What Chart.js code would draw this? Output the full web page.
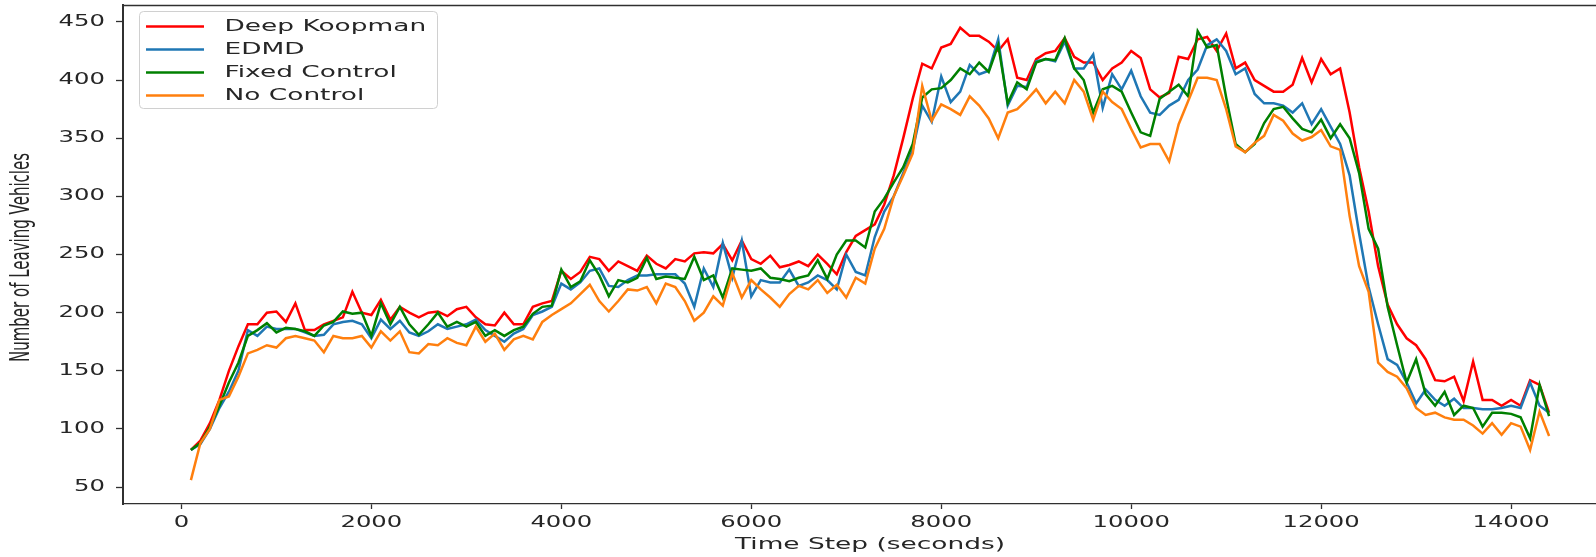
<!DOCTYPE html>
<html>
<head>
<meta charset="utf-8">
<script src="https://cdn.jsdelivr.net/npm/chart.js@4.4.1/dist/chart.umd.min.js"></script>
<style>
  html, body { margin: 0; padding: 0; background: #ffffff; overflow: hidden; width: 1596px; height: 557px; }
  #wrap { position: absolute; left: 0; top: 0; width: 1625px; height: 557px; }
</style>
</head>
<body>
<div id="wrap"><canvas id="chart" width="1625" height="557"></canvas></div>
<script>
// Simulation time (seconds) at which leaving vehicles were counted
const timeSteps = [
  100, 200, 300, 400, 500, 600, 700, 800, 900, 1000,
  1100, 1200, 1300, 1400, 1500, 1600, 1700, 1800, 1900, 2000,
  2100, 2200, 2300, 2400, 2500, 2600, 2700, 2800, 2900, 3000,
  3100, 3200, 3300, 3400, 3500, 3600, 3700, 3800, 3900, 4000,
  4100, 4200, 4300, 4400, 4500, 4600, 4700, 4800, 4900, 5000,
  5100, 5200, 5300, 5400, 5500, 5600, 5700, 5800, 5900, 6000,
  6100, 6200, 6300, 6400, 6500, 6600, 6700, 6800, 6900, 7000,
  7100, 7200, 7300, 7400, 7500, 7600, 7700, 7800, 7900, 8000,
  8100, 8200, 8300, 8400, 8500, 8600, 8700, 8800, 8900, 9000,
  9100, 9200, 9300, 9400, 9500, 9600, 9700, 9800, 9900, 10000,
  10100, 10200, 10300, 10400, 10500, 10600, 10700, 10800, 10900, 11000,
  11100, 11200, 11300, 11400, 11500, 11600, 11700, 11800, 11900, 12000,
  12100, 12200, 12300, 12400, 12500, 12600, 12700, 12800, 12900, 13000,
  13100, 13200, 13300, 13400, 13500, 13600, 13700, 13800, 13900, 14000,
  14100, 14200, 14300, 14400
];

const deepKoopman = [
  82, 90, 105, 125, 150, 171, 190, 190, 200, 201,
  192, 208, 185, 185, 190, 193, 196, 218, 200, 198,
  211, 194, 205, 200, 196, 200, 201, 197, 203, 205,
  196, 190, 189, 200, 190, 190, 205, 208, 210, 236,
  229, 235, 248, 246, 236, 244, 240, 236, 249, 242,
  238, 246, 244, 251, 252, 251, 259, 245, 262, 246,
  242, 249, 239, 241, 244, 240, 250, 242, 233, 252,
  266, 271, 276, 293, 318, 350, 384, 414, 410, 428,
  431, 445, 438, 438, 433, 425, 435, 402, 400, 418,
  423, 425, 436, 420, 415, 415, 400, 410, 415, 425,
  419, 392, 385, 389, 420, 418, 435, 437, 425, 440,
  410, 415, 400, 395, 390, 390, 396, 419, 398, 418,
  405, 410, 372, 325, 287, 240, 207, 190, 178, 172,
  160, 142, 141, 145, 124, 158, 125, 125, 120, 125,
  120, 142, 138, 114
];

const edmd = [
  82, 87, 100, 118, 132, 150, 185, 180, 188, 186,
  186, 186, 183, 180, 181, 190, 192, 193, 190, 178,
  194, 186, 193, 183, 180, 184, 190, 186, 188, 190,
  194, 185, 180, 175, 182, 186, 198, 201, 205, 225,
  220, 226, 236, 238, 223, 222, 228, 232, 232, 233,
  233, 233, 225, 205, 238, 222, 260, 230, 262, 214,
  228, 226, 226, 237, 223, 226, 232, 228, 220, 250,
  235, 232, 265, 287, 300, 320, 340, 378, 364, 403,
  381, 390, 413, 405, 408, 435, 378, 395, 394, 416,
  418, 416, 433, 410, 410, 422, 376, 405, 392, 408,
  386, 372, 370, 378, 383, 400, 409, 430, 435, 425,
  405, 410, 388, 380, 380, 378, 372, 380, 362, 375,
  360, 345, 318, 268, 222, 190, 160, 155, 140, 122,
  134, 125, 120, 126, 118, 118, 117, 117, 118, 120,
  118, 140, 120, 114
];

const fixedControl = [
  82, 88, 102, 120, 140, 157, 180, 185, 191, 183,
  187, 186, 184, 180, 189, 192, 201, 199, 200, 180,
  208, 190, 205, 190, 181, 190, 200, 188, 192, 188,
  192, 180, 185, 180, 185, 188, 199, 205, 206, 237,
  222, 227, 245, 232, 214, 228, 226, 230, 247, 229,
  231, 230, 229, 248, 228, 232, 213, 238, 237, 236,
  238, 230, 229, 227, 230, 232, 245, 229, 250, 262,
  262, 256, 287, 298, 312, 325, 345, 385, 392, 393,
  400, 410, 405, 415, 407, 430, 380, 398, 392, 415,
  418, 417, 436, 410, 400, 372, 392, 395, 390, 372,
  355, 352, 384, 390, 396, 386, 442, 428, 430, 385,
  345, 338, 345, 363, 375, 377, 367, 358, 355, 366,
  350, 362, 350, 320, 272, 255, 205, 172, 140, 160,
  130, 120, 132, 112, 120, 118, 102, 114, 114, 113,
  110, 92, 138, 111
];

const noControl = [
  56, 88, 100, 125, 128, 145, 165, 168, 172, 170,
  178, 180, 178, 176, 166, 180, 178, 178, 180, 170,
  184, 176, 184, 166, 165, 173, 172, 178, 174, 172,
  188, 175, 182, 168, 177, 180, 177, 192, 198, 203,
  208, 216, 224, 210, 201, 210, 220, 219, 222, 208,
  225, 222, 210, 193, 200, 214, 206, 234, 213, 228,
  220, 213, 205, 216, 223, 220, 228, 217, 224, 213,
  230, 225, 255, 272, 300, 318, 337, 395, 365, 379,
  375, 370, 386, 378, 367, 350, 372, 375, 383, 392,
  380, 390, 380, 400, 390, 366, 390, 381, 375, 358,
  342, 345, 345, 330, 362, 382, 402, 402, 400, 375,
  343, 338, 346, 352, 370, 365, 354, 348, 351, 357,
  343, 340, 283, 240, 218, 157, 149, 145, 135, 118,
  112, 114, 110, 108, 108, 103, 96, 105, 95, 105,
  102, 82, 115, 94
];

const seriesNames = ['Deep Koopman', 'EDMD', 'Fixed Control', 'No Control'];
const seriesColors = ['#ff0000', '#1f77b4', '#008000', '#ff7f0e'];

const xTickValues = [0, 2000, 4000, 6000, 8000, 10000, 12000, 14000];
const xTickLabels = ['0', '2000', '4000', '6000', '8000', '10000', '12000', '14000'];
const yTickValues = [50, 100, 150, 200, 250, 300, 350, 400, 450];
const yTickLabels = ['50', '100', '150', '200', '250', '300', '350', '400', '450'];

const xTitle = 'Time Step (seconds)';
const yTitle = 'Number of Leaving Vehicles';

const FONT = '15px "DejaVu Sans"';
const TEXT_COLOR = '#262626';
const AXIS_COLOR = '#303030';
const WIDE_TICKS = 1.62; // horizontal glyph stretch for tick numbers
const WIDE_TEXT = 1.76;  // horizontal glyph stretch for titles and legend

function drawWide(ctx, text, x, y, align, baseline, sx) {
  ctx.save();
  ctx.translate(x, y);
  ctx.scale(sx, 1);
  ctx.textAlign = align;
  ctx.textBaseline = baseline;
  ctx.fillText(text, 0, 0);
  ctx.restore();
}

// Frame top edge, tick labels, axis titles and the boxed legend
const annotations = {
  id: 'annotations',
  afterDraw(chart) {
    const { ctx, chartArea: a, scales } = chart;
    const xs = scales.x, ys = scales.y;
    ctx.save();

    ctx.strokeStyle = AXIS_COLOR;
    ctx.lineWidth = 1.3;
    ctx.beginPath();
    ctx.moveTo(a.left, a.top + 0.5);
    ctx.lineTo(chart.width, a.top + 0.5);
    ctx.stroke();

    ctx.fillStyle = TEXT_COLOR;
    ctx.font = FONT;
    xTickValues.forEach((v, i) => {
      drawWide(ctx, xTickLabels[i], xs.getPixelForValue(v), a.bottom + 19, 'center', 'middle', WIDE_TICKS);
    });
    yTickValues.forEach((v, i) => {
      drawWide(ctx, yTickLabels[i], a.left - 18, ys.getPixelForValue(v), 'right', 'middle', WIDE_TICKS);
    });

    drawWide(ctx, xTitle, (a.left + a.right) / 2, a.bottom + 41, 'center', 'middle', WIDE_TEXT);

    ctx.save();
    ctx.translate(22.5, (a.top + a.bottom) / 2 + 3);
    ctx.rotate(-Math.PI / 2);
    ctx.scale(1, WIDE_TEXT);
    ctx.textAlign = 'center';
    ctx.textBaseline = 'middle';
    ctx.fillText(yTitle, 0, 0);
    ctx.restore();

    // legend
    const bx = a.left + 16.5, by = a.top + 6.5, bw = 298, bh = 97, r = 4;
    ctx.beginPath();
    ctx.moveTo(bx + r, by);
    ctx.lineTo(bx + bw - r, by);
    ctx.arcTo(bx + bw, by, bx + bw, by + r, r);
    ctx.lineTo(bx + bw, by + bh - r);
    ctx.arcTo(bx + bw, by + bh, bx + bw - r, by + bh, r);
    ctx.lineTo(bx + r, by + bh);
    ctx.arcTo(bx, by + bh, bx, by + bh - r, r);
    ctx.lineTo(bx, by + r);
    ctx.arcTo(bx, by, bx + r, by, r);
    ctx.closePath();
    ctx.fillStyle = 'rgba(255,255,255,0.8)';
    ctx.fill();
    ctx.strokeStyle = '#d0d0d0';
    ctx.lineWidth = 1;
    ctx.stroke();

    chart.data.datasets.forEach((ds, i) => {
      const ry = by + 15 + i * 23;
      ctx.strokeStyle = ds.borderColor;
      ctx.lineWidth = 2.5;
      ctx.beginPath();
      ctx.moveTo(bx + 6.5, ry);
      ctx.lineTo(bx + 64.5, ry);
      ctx.stroke();
      ctx.fillStyle = TEXT_COLOR;
      drawWide(ctx, ds.label, bx + 85, ry + 1, 'left', 'middle', WIDE_TEXT);
    });

    ctx.restore();
  }
};

const seriesValues = [deepKoopman, edmd, fixedControl, noControl];

const datasets = seriesValues.map((vals, i) => ({
  label: seriesNames[i],
  data: vals.map((v, k) => ({ x: timeSteps[k], y: v })),
  borderColor: seriesColors[i],
  backgroundColor: seriesColors[i],
  borderWidth: 2.5,
  pointRadius: 0,
  tension: 0,
  fill: false,
  order: seriesValues.length - i
}));

new Chart(document.getElementById('chart'), {
  type: 'line',
  data: { datasets },
  options: {
    responsive: false,
    animation: false,
    events: [],
    layout: { padding: { left: 0, right: 8, top: 5, bottom: 0 } },
    plugins: { legend: { display: false }, tooltip: { enabled: false } },
    scales: {
      x: {
        type: 'linear',
        min: -615,
        max: 15115,
        afterBuildTicks: (s) => { s.ticks = xTickValues.map(v => ({ value: v })); },
        afterFit: (s) => { s.height = 53; },
        ticks: { display: false },
        grid: { display: true, drawOnChartArea: false, drawTicks: true, tickLength: 5, tickColor: AXIS_COLOR, tickWidth: 1.3 },
        border: { display: true, color: AXIS_COLOR, width: 1.3 }
      },
      y: {
        type: 'linear',
        min: 35.5,
        max: 464.5,
        afterBuildTicks: (s) => { s.ticks = yTickValues.map(v => ({ value: v })); },
        afterFit: (s) => { s.width = 123; },
        ticks: { display: false },
        grid: { display: true, drawOnChartArea: false, drawTicks: true, tickLength: 7, tickColor: AXIS_COLOR, tickWidth: 1.3 },
        border: { display: true, color: AXIS_COLOR, width: 2 }
      }
    }
  },
  plugins: [annotations]
});
</script>
</body>
</html>
